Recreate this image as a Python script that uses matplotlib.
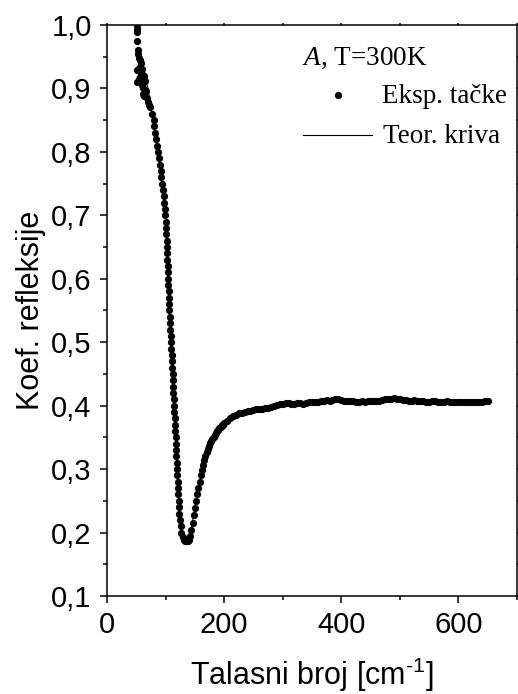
import numpy as np
import matplotlib
matplotlib.use('Agg')
import matplotlib.pyplot as plt
from matplotlib.ticker import MultipleLocator, FuncFormatter

plt.rcParams['font.family'] = ['Liberation Sans', 'DejaVu Sans']
plt.rcParams['mathtext.fontset'] = 'custom'
plt.rcParams['mathtext.rm'] = 'Liberation Sans'
plt.rcParams['mathtext.it'] = 'Liberation Serif:italic'
plt.rcParams['mathtext.default'] = 'regular'

# experimental points - noisy low-frequency start
top_x = [51.5, 51.5, 51.8, 52.0, 52.5, 53.0, 54.0, 56.5, 58.0, 51.0, 55.0, 57.5, 60.0, 51.0,
         54.5, 57.0, 60.5, 63.0, 59.0, 62.0, 65.0, 61.0, 64.0, 66.0, 68.0, 70.0, 72.0, 74.0]
top_y = [1.000, 0.994, 0.989, 0.974, 0.960, 0.955, 0.948, 0.945, 0.940, 0.929, 0.932, 0.925,
         0.930, 0.910, 0.915, 0.918, 0.922, 0.920, 0.905, 0.900, 0.912, 0.892, 0.888, 0.896,
         0.885, 0.878, 0.874, 0.870]

# steep fall towards the minimum
fall_x = [77.5, 79.5, 80.8, 82.0, 83.2, 84.5, 86.2, 88.0, 89.8, 91.5, 92.8, 94.0, 95.3, 96.5,
          97.7, 98.8, 99.6, 100.3, 100.8, 101.3, 101.8, 102.3, 102.8, 103.2, 103.6, 104.0,
          104.4, 104.8, 105.2, 105.7, 106.1, 106.6, 107.1, 107.6, 108.1, 108.6, 109.2, 109.8,
          110.4, 111.0, 111.5, 112.0, 112.5, 113.0, 113.5, 114.0, 114.5, 115.0, 115.5, 116.0,
          116.5, 117.0, 117.5, 118.0, 118.5, 119.0, 119.5, 120.0, 120.5, 121.0, 121.6, 122.2,
          122.9, 123.6, 124.5, 125.5, 127.0, 129.0, 131.0, 133.0]
fall_y = [0.86, 0.85, 0.84, 0.83, 0.82, 0.81, 0.80, 0.79, 0.78, 0.77, 0.76, 0.75, 0.74, 0.73,
          0.72, 0.71, 0.70, 0.69, 0.68, 0.67, 0.66, 0.65, 0.64, 0.63, 0.62, 0.61, 0.60, 0.59,
          0.58, 0.57, 0.56, 0.55, 0.54, 0.53, 0.52, 0.51, 0.50, 0.49, 0.48, 0.47, 0.46, 0.45,
          0.44, 0.43, 0.42, 0.41, 0.40, 0.39, 0.38, 0.37, 0.36, 0.35, 0.34, 0.33, 0.32, 0.31,
          0.30, 0.29, 0.28, 0.27, 0.26, 0.25, 0.24, 0.23, 0.22, 0.21, 0.20, 0.193, 0.189, 0.187]

# recovery after the minimum
rise_x = [136, 138, 140, 142, 144, 146, 148, 150, 152, 154, 156, 158, 160, 162, 164, 166,
          168, 170, 172, 174, 176, 178, 180, 182, 184, 186, 188, 190, 192, 194, 196, 198]
rise_y = [0.186, 0.186, 0.189, 0.195, 0.204, 0.215, 0.227, 0.239, 0.250, 0.260, 0.270, 0.280,
          0.290, 0.299, 0.307, 0.314, 0.321, 0.327, 0.332, 0.337, 0.341, 0.345, 0.348, 0.351,
          0.354, 0.357, 0.360, 0.362, 0.365, 0.367, 0.369, 0.370]

# plateau, 5 cm-1 step from 200 to 650
tail_x = np.arange(200, 651, 5)
tail_y = [0.372, 0.376, 0.380, 0.383, 0.386, 0.388, 0.389, 0.390, 0.391, 0.392, 0.393, 0.394,
          0.395, 0.395, 0.396, 0.397, 0.398, 0.400, 0.401, 0.402, 0.403, 0.404, 0.404, 0.403,
          0.403, 0.404, 0.404, 0.403, 0.404, 0.405, 0.406, 0.406, 0.406, 0.407, 0.408, 0.409,
          0.408, 0.409, 0.410, 0.410, 0.409, 0.408, 0.408, 0.407, 0.407, 0.406, 0.406, 0.407,
          0.406, 0.407, 0.408, 0.408, 0.407, 0.408, 0.409, 0.410, 0.410, 0.411, 0.412, 0.411,
          0.410, 0.409, 0.409, 0.408, 0.408, 0.409, 0.408, 0.407, 0.407, 0.406, 0.406, 0.407,
          0.407, 0.406, 0.406, 0.406, 0.407, 0.406, 0.405, 0.405, 0.406, 0.406, 0.405, 0.405,
          0.406, 0.406, 0.405, 0.405, 0.406, 0.407, 0.407]

# theoretical (fitted) curve
teor_x = [50, 70, 85, 95, 100, 105, 110, 115, 120, 125, 130, 136, 142, 150, 160, 175, 200,
          250, 300, 400, 500, 650]
teor_y = [0.960, 0.900, 0.810, 0.745, 0.695, 0.570, 0.480, 0.390, 0.290, 0.215, 0.192, 0.186,
          0.195, 0.239, 0.290, 0.339, 0.372, 0.393, 0.403, 0.409, 0.410, 0.406]

eksp_x = np.concatenate([top_x, fall_x, rise_x, tail_x])
eksp_y = np.concatenate([top_y, fall_y, rise_y, tail_y])

fig = plt.figure(figsize=(5.18, 6.94), dpi=100)
ax = fig.add_axes([0.2066, 0.1412, 0.7914, 0.8228])

ax.plot(teor_x, teor_y, '-', color='black', lw=0.8, zorder=2)
ax.plot(eksp_x, eksp_y, 'o', color='black', ms=5.2, mew=0, zorder=3)

ax.set_xlim(0, 700)
ax.set_ylim(0.1, 1.0)
ax.xaxis.set_major_locator(MultipleLocator(200))
ax.xaxis.set_minor_locator(MultipleLocator(100))
ax.yaxis.set_major_locator(MultipleLocator(0.1))
ax.yaxis.set_minor_locator(MultipleLocator(0.05))
ax.yaxis.set_major_formatter(FuncFormatter(lambda v, p: ('%.1f' % v).replace('.', ',')))

ax.tick_params(which='major', direction='out', length=5, width=1.1, labelsize=21, pad=6)
ax.tick_params(which='minor', direction='out', length=3, width=1.1)
# tiny marks on the top and right frame
ax.tick_params(which='both', top=True, right=True, labeltop=False, labelright=False)
for t in ax.xaxis.get_major_ticks() + ax.xaxis.get_minor_ticks():
    t.tick2line.set_markersize(1.5)
for t in ax.yaxis.get_major_ticks() + ax.yaxis.get_minor_ticks():
    t.tick2line.set_markersize(1.5)
for s in ax.spines.values():
    s.set_linewidth(1.1)

ax.set_xlabel(r'Talasni broj [cm$^{\text{-}1}$]', fontsize=22)
ax.set_ylabel('Koef. refleksije', fontsize=22)
ax.xaxis.set_label_coords(0.5, -0.105)
ax.yaxis.set_label_coords(-0.15, 0.5)

serif = ['Liberation Serif', 'DejaVu Serif']
ax.text(0.475, 0.930, r'$\mathit{A}$, T=300K', transform=ax.transAxes, fontsize=19.5,
        family=serif, va='baseline', ha='left')
ax.plot([0.5627], [0.877], 'o', color='black', ms=5.2, mew=0, transform=ax.transAxes,
        clip_on=False)
ax.text(0.670, 0.863, 'Eksp. tačke', transform=ax.transAxes, fontsize=19.5, family=serif,
        va='baseline', ha='left')
ax.plot([0.477, 0.6456], [0.807, 0.807], '-', color='black', lw=0.8, transform=ax.transAxes)
ax.text(0.673, 0.793, 'Teor. kriva', transform=ax.transAxes, fontsize=19.5, family=serif,
        va='baseline', ha='left')

fig.savefig('out.png', dpi=100)
